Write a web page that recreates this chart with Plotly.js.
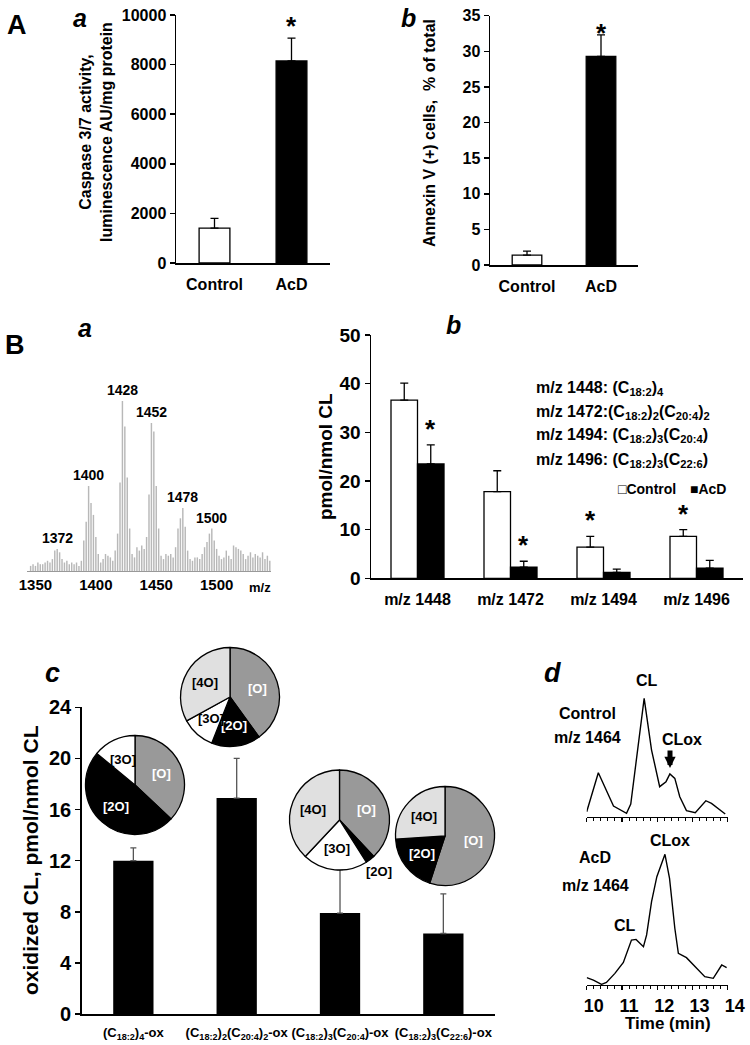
<!DOCTYPE html>
<html><head><meta charset="utf-8">
<script src="https://cdn.plot.ly/plotly-3.0.1.min.js"></script>
<style>body{margin:0;background:#fff}#chart{width:750px;height:1045px}</style>
</head><body><div id="chart"></div>
<script>
// ---------- DATA ----------
// Panel A-a: caspase 3/7 activity
const groupsA = ['Control', 'AcD'];
const caspaseMean = [1410, 8150];
const caspaseErr = [390, 920];
const caspaseSig = [false, true];
// Panel A-b: annexin V
const annexinMean = [1.4, 29.3];
const annexinErr = [0.55, 3.0];
const annexinSig = [false, true];
// Panel B-a: mass spectrum (m/z, relative intensity)
const specMz = [1346,1348,1350,1352,1354,1356,1358,1360,1362,1364,1366,1368,1370,1372,1374,1376,1378,1380,1382,1384,1386,1388,1390,1392,1394,1396,1398,1400,1402,1404,1406,1408,1410,1412,1414,1416,1418,1420,1422,1424,1426,1428,1430,1432,1434,1436,1438,1440,1442,1444,1446,1448,1450,1452,1454,1456,1458,1460,1462,1464,1466,1468,1470,1472,1474,1476,1478,1480,1482,1484,1486,1488,1490,1492,1494,1496,1498,1500,1502,1504,1506,1508,1510,1512,1514,1516,1518,1520,1522,1524,1526,1528,1530,1532,1534,1536,1538,1540,1542,1544];
const specInt = [3,4,3,5,4,4,5,6,5,7,12,13,11,7,5,6,4,5,4,5,3,6,18,29,50,40,33,20,10,5,7,10,9,8,6,12,22,52,100,85,55,25,10,8,14,12,15,13,20,45,87,82,50,25,9,7,10,9,10,8,14,25,31,37,26,12,7,6,8,8,7,10,14,17,22,25,18,13,9,7,8,12,9,7,15,14,13,12,10,7,9,11,8,10,9,8,11,7,9,6];
const specPeakLabels = ['1372','1400','1428','1452','1478','1500'];
const specPeakMz = [1368,1394,1422,1446,1472,1496];
const specTicks = [1350,1400,1450,1500];
// Panel B-b: CL species
const speciesB = ['m/z 1448','m/z 1472','m/z 1494','m/z 1496'];
const clControl = [36.6, 17.8, 6.4, 8.6];
const clControlErr = [3.5, 4.3, 2.2, 1.4];
const clControlSig = [false, false, true, true];
const clAcD = [23.5, 2.3, 1.2, 2.1];
const clAcDErr = [3.9, 1.2, 0.7, 1.6];
const clAcDSig = [true, true, false, false];
const formulas = [
  'm/z 1448: (C<sub>18:2</sub>)<sub>4</sub>',
  'm/z 1472:(C<sub>18:2</sub>)<sub>2</sub>(C<sub>20:4</sub>)<sub>2</sub>',
  'm/z 1494: (C<sub>18:2</sub>)<sub>3</sub>(C<sub>20:4</sub>)',
  'm/z 1496: (C<sub>18:2</sub>)<sub>3</sub>(C<sub>22:6</sub>)'
];
const legendNames = ['Control', 'AcD'];
// Panel C: oxidized CL
const speciesC = ['(C<sub>18:2</sub>)<sub>4</sub>-ox','(C<sub>18:2</sub>)<sub>2</sub>(C<sub>20:4</sub>)<sub>2</sub>-ox','(C<sub>18:2</sub>)<sub>3</sub>(C<sub>20:4</sub>)-ox','(C<sub>18:2</sub>)<sub>3</sub>(C<sub>22:6</sub>)-ox'];
const oxMean = [12.0, 16.9, 7.9, 6.3];
const oxErr = [1.0, 3.1, 3.4, 3.1];
// Pie insets: oxygen species distribution (%)
const pie1Labels = ['[O]','[2O]','[3O]'];           const pie1Values = [37, 49, 14];
const pie2Labels = ['[O]','[2O]','[3O]','[4O]'];    const pie2Values = [40, 16, 11, 33];
const pie3Labels = ['[O]','[2O]','[3O]','[4O]'];    const pie3Values = [38, 3, 21, 38];
const pie4Labels = ['[O]','[2O]','[4O]'];           const pie4Values = [55, 19, 26];
// Panel D: chromatograms m/z 1464 (time in min, relative intensity)
const ctrlTime = [10.0,10.33,10.76,11.13,11.25,11.63,11.84,12.07,12.25,12.36,12.5,12.64,12.83,13.08,13.38,13.54,13.93];
const ctrlInt  = [4.2,37.2,9.0,2.8,10.7,100,56.3,25.4,29.6,36.1,32.4,16.9,5.1,3.4,13.5,11.3,2.3];
const acdTime = [10.0,10.19,10.42,10.56,10.8,11.04,11.27,11.4,11.61,11.7,11.84,11.99,12.22,12.35,12.5,12.6,12.83,13.12,13.35,13.59,13.83,13.97];
const acdInt  = [5.6,3.8,0.5,2.0,8.9,17.3,34.4,34.9,29.3,38.3,63.8,82.9,100,81.6,43.4,24.2,20.9,12.8,6.4,5.1,15.3,13.3];

// ---------- LAYOUT HELPERS ----------
const W = 750, H = 1045;
const X = p => p / W;
const Y = p => 1 - p / H;
const FF = 'Liberation Sans, Arial, sans-serif';
const bold = (s, c) => ({family: FF, size: s, color: c || '#000', weight: 'bold'});
const annotations = [];
function txt(text, px, py, size, o) {
  o = o || {};
  annotations.push(Object.assign({
    text: text, x: X(px), y: Y(py), xref: 'paper', yref: 'paper',
    showarrow: false, xanchor: 'center', yanchor: 'middle', borderpad: 0,
    font: Object.assign(bold(size), o.font || {})
  }, o.extra || {}));
}
function italic(t, px, py, size) { txt(t, px, py, size, {font: {style: 'italic'}}); }

const axBase = {showgrid: false, zeroline: false, showline: true, linecolor: '#000', linewidth: 1.5, fixedrange: true};
const yBase = Object.assign({}, axBase, {ticks: 'outside', ticklen: 5, tickwidth: 1.5, tickcolor: '#000', exponentformat: 'none', separatethousands: false});
const xCat = Object.assign({}, axBase, {type: 'category', ticks: '', tickangle: 0});

const traces = [];
const errStyle = (arr, w, col) => ({type: 'data', array: arr, arrayminus: arr.map(() => 0), symmetric: false, visible: true, thickness: 1.3, width: w, color: col || '#000'});
function stars(sig, xs, means, errs, xa, ya, yshift, size) {
  sig.forEach((s, i) => {
    if (!s) return;
    annotations.push({text: '*', x: xs[i], y: means[i] + errs[i], xref: xa, yref: ya, showarrow: false,
      xanchor: 'center', yanchor: 'middle', yshift: yshift, font: bold(size)});
  });
}

// ---------- Panel A-a ----------
traces.push({type: 'bar', x: groupsA, y: caspaseMean, xaxis: 'x', yaxis: 'y', width: 0.4,
  marker: {color: ['#fff', '#000'], line: {color: '#000', width: 1.3}},
  error_y: errStyle(caspaseErr, 4), showlegend: false, hoverinfo: 'none'});
stars(caspaseSig, [0, 1], caspaseMean, caspaseErr, 'x', 'y', 12, 26);
// ---------- Panel A-b ----------
traces.push({type: 'bar', x: groupsA, y: annexinMean, xaxis: 'x2', yaxis: 'y2', width: 0.4,
  marker: {color: ['#fff', '#000'], line: {color: '#000', width: 1.3}},
  error_y: errStyle(annexinErr, 4), showlegend: false, hoverinfo: 'none'});
stars(annexinSig, [0, 1], annexinMean, annexinErr, 'x2', 'y2', 2, 26);
// ---------- Panel B-a ----------
traces.push({type: 'bar', x: specMz, y: specInt, xaxis: 'x3', yaxis: 'y3', width: 1.2,
  marker: {color: '#b8b8b8', line: {width: 0}}, showlegend: false, hoverinfo: 'none'});
specPeakLabels.forEach((lab, i) => {
  const k = specMz.indexOf(specPeakMz[i]);
  annotations.push({text: lab, x: specPeakMz[i], y: specInt[k], xref: 'x3', yref: 'y3', showarrow: false,
    xanchor: 'center', yanchor: 'bottom', yshift: 1, font: bold(14)});
});
// ---------- Panel B-b ----------
const bw = 0.285;
traces.push({type: 'bar', name: legendNames[0], x: speciesB, y: clControl, xaxis: 'x4', yaxis: 'y4', width: bw, offset: -bw,
  marker: {color: '#fff', line: {color: '#000', width: 1.3}}, error_y: errStyle(clControlErr, 4), showlegend: false, hoverinfo: 'none'});
traces.push({type: 'bar', name: legendNames[1], x: speciesB, y: clAcD, xaxis: 'x4', yaxis: 'y4', width: bw, offset: 0,
  marker: {color: '#000', line: {color: '#000', width: 1.3}}, error_y: errStyle(clAcDErr, 4), showlegend: false, hoverinfo: 'none'});
stars(clControlSig, speciesB.map((_, i) => i - bw / 2), clControl, clControlErr, 'x4', 'y4', 16, 26);
stars(clAcDSig, speciesB.map((_, i) => i + bw / 2), clAcD, clAcDErr, 'x4', 'y4', 16, 26);
formulas.forEach((f, i) => txt(f, 535, [388, 412, 435, 460][i], 16, {extra: {xanchor: 'left'}}));
// legend key (compact, as in the original)
txt('\u25A1' + legendNames[0], 617, 489, 14, {extra: {xanchor: 'left'}});
txt('\u25A0' + legendNames[1], 689, 489, 14, {extra: {xanchor: 'left'}});
// ---------- Panel C ----------
traces.push({type: 'bar', x: speciesC, y: oxMean, xaxis: 'x5', yaxis: 'y5', width: 0.39,
  marker: {color: '#000'}, error_y: errStyle(oxErr, 3, '#555'), showlegend: false, hoverinfo: 'none'});
const pieColor = {'[O]': '#999999', '[2O]': '#000000', '[3O]': '#ffffff', '[4O]': '#e0e0e0'};
const pieText = {'[O]': '#fff', '[2O]': '#fff', '[3O]': '#000', '[4O]': '#000'};
function addPie(labels, values, cx, cy, r) {
  traces.push({type: 'pie', labels: labels, values: values, sort: false, direction: 'clockwise', rotation: 0,
    marker: {colors: labels.map(l => pieColor[l]), line: {color: '#000', width: 1.3}},
    textinfo: 'none', hoverinfo: 'none', showlegend: false,
    domain: {x: [X(cx - r), X(cx + r)], y: [Y(cy + r), Y(cy - r)]}});
  const tot = values.reduce((a, b) => a + b, 0);
  let acc = 0;
  values.forEach((v, i) => {
    const mid = (acc + v / 2) / tot * 2 * Math.PI; acc += v;
    const small = v / tot < 0.06;
    const f = small ? 1.3 : 0.58;
    const col = small ? '#000' : pieText[labels[i]];
    txt(labels[i], cx + r * f * Math.sin(mid), cy - r * f * Math.cos(mid), 13, {font: {color: col}});
  });
}
addPie(pie1Labels, pie1Values, 135, 785, 49.5);
addPie(pie2Labels, pie2Values, 230, 697, 49.5);
addPie(pie3Labels, pie3Values, 339.5, 820, 50);
addPie(pie4Labels, pie4Values, 445, 836, 49.5);
// ---------- Panel D ----------
traces.push({type: 'scatter', mode: 'lines', x: ctrlTime, y: ctrlInt, xaxis: 'x6', yaxis: 'y6',
  line: {color: '#000', width: 1.4}, showlegend: false, hoverinfo: 'none'});
traces.push({type: 'scatter', mode: 'lines', x: acdTime, y: acdInt, xaxis: 'x7', yaxis: 'y7',
  line: {color: '#000', width: 1.4}, showlegend: false, hoverinfo: 'none'});

// ---------- TEXT ----------
txt('A', 17, 25, 27); txt('B', 15, 345, 27);
italic('a', 80, 18, 25); italic('b', 408, 18, 25); italic('a', 85, 328, 25); italic('b', 453, 325, 25);
italic('c', 52, 673, 27); italic('d', 552, 673, 27);
txt('Caspase 3/7 activity,<br>luminescence AU/mg protein', 96, 132, 16, {extra: {textangle: -90}});
txt('Annexin V (+) cells,  % of total', 430, 133, 16, {extra: {textangle: -90}});
txt('pmol/nmol CL', 325, 457, 19, {extra: {textangle: -90}});
txt('oxidized CL, pmol/nmol CL', 30, 860, 21, {extra: {textangle: -90}});
txt('m/z', 260, 587, 13);
txt('CL', 647, 680, 16); txt('Control', 587, 713, 16); txt('m/z 1464', 587, 737, 16);
txt('CLox', 682, 739, 16);
annotations.push({text: '', x: X(670), y: Y(768), xref: 'paper', yref: 'paper', showarrow: true,
  ax: 0, ay: -19, arrowhead: 2, arrowsize: 0.45, arrowwidth: 5, arrowcolor: '#000', standoff: 0, startstandoff: 0});
txt('CLox', 670, 840, 16); txt('AcD', 595, 857, 16); txt('m/z 1464', 595, 885, 16); txt('CL', 625, 925, 16);
txt('Time (min)', 668, 1023, 17);

// ---------- LAYOUT ----------
const dx = Object.assign({}, axBase, {range: [10, 14], dtick: 1, tick0: 10, ticks: 'outside', ticklen: 4, tickwidth: 1.2, tickcolor: '#000', linewidth: 1.3,
  ticklabelshift: 7, minor: {dtick: 0.2, tick0: 10, ticks: 'outside', ticklen: 3, tickwidth: 1, tickcolor: '#000', showgrid: false}});
const layout = {
  width: W, height: H, margin: {l: 0, r: 0, t: 0, b: 0}, paper_bgcolor: '#fff', plot_bgcolor: 'rgba(0,0,0,0)',
  barmode: 'overlay', showlegend: false,
  xaxis: Object.assign({}, xCat, {domain: [X(176), X(330)], anchor: 'y', range: [-0.5, 1.5], tickfont: bold(16), ticklabelstandoff: 6}),
  yaxis: Object.assign({}, yBase, {domain: [Y(263), Y(15)], anchor: 'x', range: [0, 10000], dtick: 2000, tickformat: 'd', tickfont: bold(16)}),
  xaxis2: Object.assign({}, xCat, {domain: [X(490), X(638)], anchor: 'y2', range: [-0.5, 1.5], tickfont: bold(16), ticklabelstandoff: 6}),
  yaxis2: Object.assign({}, yBase, {domain: [Y(265), Y(15.7)], anchor: 'x2', range: [0, 35], dtick: 5, tickfont: bold(16)}),
  xaxis3: Object.assign({}, axBase, {domain: [X(27), X(271)], anchor: 'y3', range: [1343, 1545], tickvals: specTicks, ticks: '', linecolor: '#999', linewidth: 1, tickfont: bold(15)}),
  yaxis3: Object.assign({}, axBase, {domain: [Y(571), Y(571 - 105 * 1.7)], anchor: 'x3', range: [0, 105], visible: false}),
  xaxis4: Object.assign({}, xCat, {domain: [X(371), X(743)], anchor: 'y4', range: [-0.5, 3.5], tickfont: bold(16), ticklabelstandoff: 6}),
  yaxis4: Object.assign({}, yBase, {domain: [Y(578.3), Y(335)], anchor: 'x4', range: [0, 50], dtick: 10, tickfont: bold(19)}),
  xaxis5: Object.assign({}, xCat, {domain: [X(81.7), X(495)], anchor: 'y5', range: [-0.5, 3.5], tickfont: bold(13), ticklabelstandoff: 6}),
  yaxis5: Object.assign({}, yBase, {domain: [Y(1014), Y(707.3)], anchor: 'x5', range: [0, 24], dtick: 4, tickfont: bold(20)}),
  xaxis6: Object.assign({}, dx, {domain: [X(586.7), X(727.7)], anchor: 'y6', showticklabels: false}),
  yaxis6: Object.assign({}, axBase, {domain: [Y(816.7), Y(816.7 - 110 * 1.183)], anchor: 'x6', range: [0, 110], visible: false}),
  xaxis7: Object.assign({}, dx, {domain: [X(586.7), X(727.7)], anchor: 'y7', tickfont: bold(18)}),
  yaxis7: Object.assign({}, axBase, {domain: [Y(985), Y(985 - 110 * 1.307)], anchor: 'x7', range: [0, 110], visible: false}),
  annotations: annotations
};
Plotly.newPlot('chart', traces, layout, {staticPlot: true, displayModeBar: false});
</script></body></html>
